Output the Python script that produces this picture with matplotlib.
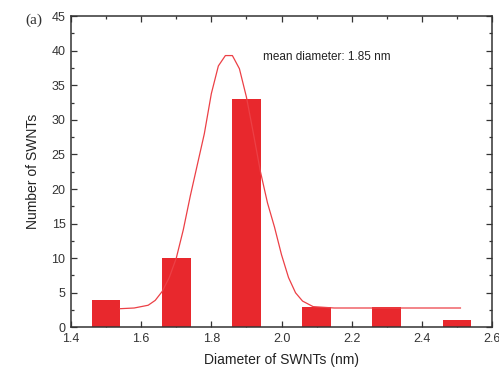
import numpy as np
import matplotlib
matplotlib.use('Agg')
import matplotlib.pyplot as plt
from matplotlib.ticker import MultipleLocator

plt.rcParams['font.family'] = ['Liberation Sans', 'DejaVu Sans']

# --- Histogram of tube diameters ------------------------------------------
diameters = [1.5, 1.7, 1.9, 2.1, 2.3, 2.5]   # bin centres (nm)
counts = [4, 10, 33, 3, 3, 1]

# Gaussian fit curve (sampled points)
fit_d = [1.54, 1.58, 1.62, 1.64, 1.66, 1.68, 1.70, 1.72, 1.74, 1.76, 1.78,
         1.80, 1.82, 1.84, 1.86, 1.88, 1.90, 1.92, 1.94, 1.96, 1.98, 2.00,
         2.02, 2.04, 2.06, 2.09, 2.15, 2.30, 2.51]
fit_n = [2.7, 2.8, 3.2, 3.9, 5.2, 7.2, 10.0, 14.1, 19.0, 23.5, 28.0,
         33.8, 37.8, 39.3, 39.3, 37.4, 33.3, 28.0, 22.5, 18.0, 14.5, 10.5,
         7.2, 5.0, 3.8, 3.0, 2.8, 2.8, 2.8]

mean_label = 'mean diameter: 1.85 nm'

# --- Plot ----------------------------------------------------------------
fig = plt.figure(figsize=(4.99, 3.67), dpi=100)
ax = fig.add_axes([0.1423, 0.108, 0.8437, 0.848])

ax.bar(diameters, counts, width=0.082, color='#e8282d', zorder=2)
ax.plot(fit_d, fit_n, color='#ec4046', linewidth=0.9, zorder=3)

ax.text(1.946, 39.1, mean_label, fontsize=8.5, va='center', ha='left',
        color='#222222')

ax.set_xlim(1.4, 2.6)
ax.set_ylim(0, 45)
ax.xaxis.set_major_locator(MultipleLocator(0.2))
ax.xaxis.set_minor_locator(MultipleLocator(0.1))
ax.yaxis.set_major_locator(MultipleLocator(5))
ax.yaxis.set_minor_locator(MultipleLocator(2.5))
ax.set_xticks(np.arange(1.4, 2.61, 0.2))
ax.set_xticklabels(['1.4', '1.6', '1.8', '2.0', '2.2', '2.4', '2.6'])

ax.tick_params(which='both', direction='in', top=True, right=True,
               labelsize=9, colors='#333333', width=0.9)
ax.tick_params(which='major', length=4, pad=4)
ax.tick_params(which='minor', length=2)
for s in ax.spines.values():
    s.set_linewidth(1.1)
    s.set_color('#333333')

ax.set_xlabel('Diameter of SWNTs (nm)', fontsize=10, labelpad=6,
              color='#222222')
ax.set_ylabel('Number of SWNTs', fontsize=10, labelpad=8, color='#222222')

fig.text(0.05, 0.945, '(a)', fontsize=11, family='Liberation Serif',
         ha='left', va='center', color='#333333')

fig.savefig('out.png', dpi=100)
plt.close(fig)
